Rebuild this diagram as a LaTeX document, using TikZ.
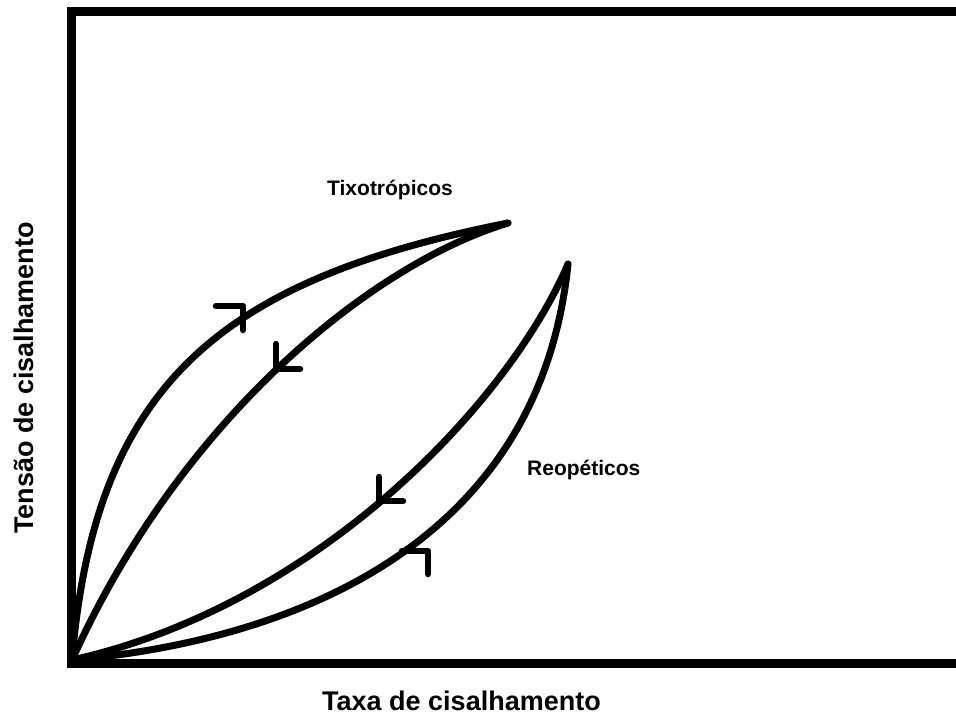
\documentclass[tikz,border=0pt]{standalone}
\usepackage{fontspec}
\setmainfont{Liberation Sans}
\begin{document}
\begin{tikzpicture}[x=1pt,y=-1pt,
  frame/.style={line width=9pt,line join=miter},
  curve/.style={line width=7pt,line cap=round},
  barb/.style={line width=6.5pt,line cap=round,line join=round},
  lbl/.style={font=\fontsize{21}{25}\selectfont\bfseries,inner sep=0pt},
  axlbl/.style={font=\fontsize{27}{32}\selectfont\bfseries,inner sep=0pt}]
\clip (0,0) rectangle (956,716);
\fill[white] (0,0) rectangle (956,716);

% axes box
\draw[frame] (1000,11.5) -- (71.5,11.5) -- (71.5,663) -- (1000,663);

% shared origin and loop tips
\coordinate (O) at (72,660);
\coordinate (tixo) at (508,223);
\coordinate (reo) at (568,264);

% thixotropic loop
\draw[curve] (O) .. controls (95,385) and (220,280) .. (tixo);
\draw[curve] (tixo) .. controls (370,265) and (180,420) .. (O);
% rheopectic loop
\draw[curve] (reo) .. controls (510,400) and (320,605) .. (O);
\draw[curve] (O) .. controls (300,640) and (540,540) .. (reo);

% direction marks
\draw[barb] (216,306) -- (243,306) -- (243,330);
\draw[barb] (276,344) -- (276,369) -- (300,369);
\draw[barb] (379,477) -- (379,501) -- (403,501);
\draw[barb] (402,551) -- (428,551) -- (428,574);

% labels
\node[lbl,anchor=base west] (ltixo) at (327,195) {Tixotrópicos};
\node[lbl,anchor=base west] (lreo) at (527,475) {Reopéticos};
\node[axlbl,anchor=base west] (lx) at (322,710) {Taxa de cisalhamento};
\node[axlbl,rotate=90] (ly) at (24,378) {Tensão de cisalhamento};
\end{tikzpicture}
\end{document}
